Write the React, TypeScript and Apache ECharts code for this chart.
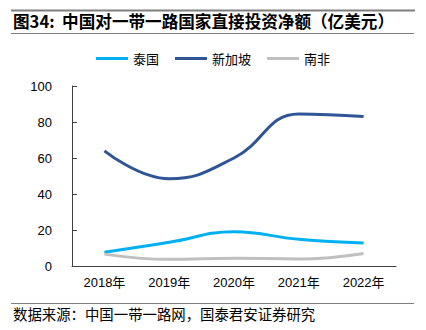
import React, { useEffect, useRef } from "react";
import * as echarts from "echarts";

const categories = ["2018年", "2019年", "2020年", "2021年", "2022年"];
const thailand = [7.6, 13.2, 19, 14.8, 12.8];
const singapore = [64, 48.5, 60, 84.5, 83];
const southAfrica = [6.6, 3.7, 4.3, 3.9, 7];
const yTicks = { min: 0, max: 100, interval: 20 };

const titleText = "图34:  中国对一带一路国家直接投资净额（亿美元）";
const sourceText = "数据来源：中国一带一路网，国泰君安证券研究";

const CJK = "'Noto Sans CJK SC', 'Noto Sans CJK JP', sans-serif";
const NUM = "'Liberation Sans', Arial, 'Noto Sans CJK SC', sans-serif";

export default function App() {
  const ref = useRef<HTMLDivElement>(null);
  useEffect(() => {
    document.body.style.margin = "0";
    const chart = echarts.init(ref.current!, null, { renderer: "svg" });
    const mk = (name: string, data: number[], color: string) => ({
      name,
      type: "line",
      data,
      smooth: 0.45,
      symbol: "none",
      lineStyle: { color, width: 3 },
      itemStyle: { color },
    });
    chart.setOption({
      animation: false,
      backgroundColor: "#ffffff",
      grid: { left: 72, right: 30, top: 86, bottom: 64 },
      legend: {
        top: 47,
        left: "center",
        itemWidth: 32,
        itemHeight: 3,
        itemGap: 16,
        icon: "rect",
        textStyle: { fontFamily: CJK, fontSize: 13, color: "#000" },
        data: ["泰国", "新加坡", "南非"],
      },
      xAxis: {
        type: "category",
        data: categories,
        boundaryGap: true,
        axisLine: { lineStyle: { color: "#404040", width: 1 } },
        axisTick: { inside: true, length: 4, lineStyle: { color: "#404040" } },
        axisLabel: { fontFamily: NUM, fontSize: 13, color: "#000", margin: 10 },
      },
      yAxis: {
        type: "value",
        min: yTicks.min,
        max: yTicks.max,
        interval: yTicks.interval,
        splitLine: { show: false },
        axisLine: { show: true, lineStyle: { color: "#404040", width: 1 } },
        axisTick: { show: true, inside: true, length: 5, lineStyle: { color: "#404040" } },
        axisLabel: { fontFamily: NUM, fontSize: 13, color: "#000", margin: 20 },
      },
      series: [
        mk("泰国", thailand, "#00B0F0"),
        mk("新加坡", singapore, "#2F5597"),
        mk("南非", southAfrica, "#BFBFBF"),
      ],
      graphic: [
        { type: "line", shape: { x1: 11, y1: 10.5, x2: 415, y2: 10.5 }, style: { stroke: "#7f7f7f", lineWidth: 2 } },
        {
          type: "text",
          left: 13,
          top: 13,
          style: { text: titleText, font: `bold 16.6px ${CJK}`, fill: "#000" },
        },
        { type: "line", shape: { x1: 11, y1: 33.5, x2: 414, y2: 33.5 }, style: { stroke: "#7f7f7f", lineWidth: 1 } },
        { type: "line", shape: { x1: 11, y1: 303.5, x2: 414, y2: 303.5 }, style: { stroke: "#7f7f7f", lineWidth: 1 } },
        {
          type: "text",
          left: 13,
          top: 306,
          style: { text: sourceText, font: `14.4px ${CJK}`, fill: "#000" },
        },
      ],
    });
    return () => chart.dispose();
  }, []);
  return <div ref={ref} style={{ position: "absolute", left: 0, top: 0, width: 426, height: 330 }} />;
}
